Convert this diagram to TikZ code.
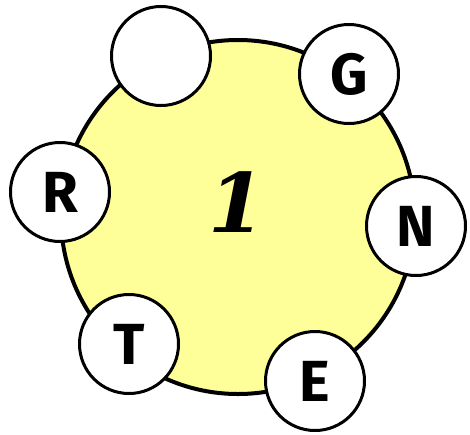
\documentclass[tikz,border=0pt]{standalone}
\usepackage{fontspec}
\newfontfamily\letterfont{Fira Sans}
\newfontfamily\numfont{DejaVu Serif}
\definecolor{paleyellow}{RGB}{255,255,153}
\tikzset{
  letterball/.style={circle,draw=black,line width=3pt,fill=white,minimum size=99pt,inner sep=0pt,
    font=\letterfont\bfseries\fontsize{58}{58}\selectfont}
}
\begin{document}
\begin{tikzpicture}[x=1pt,y=-1pt]
        \useasboundingbox (0,0) rectangle (470,434);
        \node[circle,draw=black,line width=4pt,fill=paleyellow,minimum size=354pt,inner sep=0pt] (hub) at (238,217) {};
        \node[font=\numfont\bfseries\itshape\fontsize{82}{82}\selectfont] (num) at (237,202) {1};
        \foreach \nm/\px/\py/\txt in {blank/161/56/{},g/349/74/G,n/416/226/N,e/315/381/E,t/129/344/T,r/60/192/R}
          \node[letterball] (\nm) at (\px,\py) {\txt};
      \end{tikzpicture}
\end{document}
